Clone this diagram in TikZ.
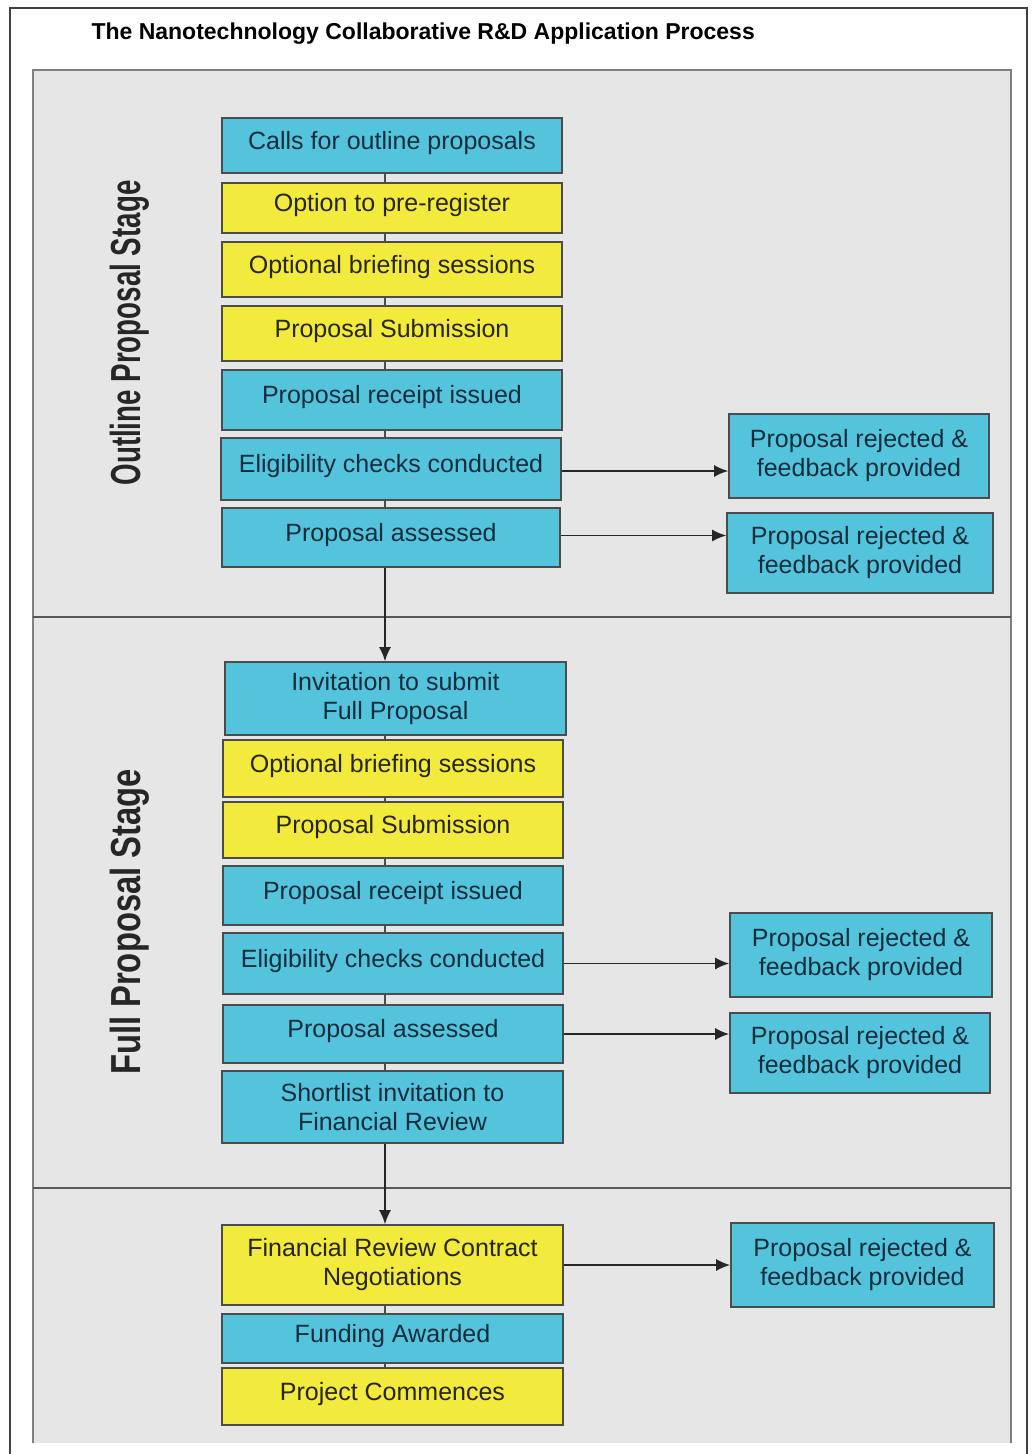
\documentclass[tikz,border=0pt]{standalone}
\usepackage{fontspec}
\usepackage{graphicx}
\setmainfont{Liberation Sans}
\usetikzlibrary{arrows.meta}
\definecolor{boxblue}{RGB}{84,196,220}
\definecolor{boxyellow}{RGB}{242,234,60}
\definecolor{panelgrey}{RGB}{230,230,230}
\definecolor{blutext}{RGB}{18,46,62}
\definecolor{yeltext}{RGB}{40,38,18}
\begin{document}
\begin{tikzpicture}[x=1pt,y=-1pt]
\tikzset{stepnode/.style={draw=black!70, line width=1.6pt, minimum width=340pt, inner sep=0pt, align=center, font=\fontsize{25}{29}\selectfont},
bluetwo/.style={stepnode, fill=boxblue, text=blutext},
yellowtwo/.style={stepnode, fill=boxyellow, text=yeltext},
bluenode/.style={bluetwo, text height=18pt, text depth=11pt},
yellownode/.style={yellowtwo, text height=18pt, text depth=11pt},
rejnode/.style={bluetwo, minimum width=262pt},
flow/.style={line width=1.8pt, draw=black!85, -{Latex[length=14pt,width=12pt]}},
tick/.style={line width=1.6pt, draw=black!70}}
\useasboundingbox (0,0) rectangle (1032,1454);
\fill[white] (0,0) rectangle (1032,1454);
\draw[black!75, line width=1.5pt] (10,1454) -- (10,8) -- (1027,8) -- (1027,1454);
\fill[panelgrey] (33,70) rectangle (1011,1443);
\draw[black!50, line width=2pt] (33,1443) -- (33,70) -- (1011,70) -- (1011,1443);
\draw[black!65, line width=2pt] (33,617) -- (1011,617);
\draw[black!65, line width=2pt] (33,1188) -- (1011,1188);
\node[anchor=base west, font=\fontsize{23}{27}\selectfont\bfseries] (title) at (88,39) {The Nanotechnology Collaborative R\&D Application Process};
\node[rotate=90, text=black!85] (S1) at (130,333) {\scalebox{0.66}[1]{\fontsize{42}{42}\selectfont\bfseries Outline Proposal Stage}};
\node[rotate=90, text=black!85] (S2) at (130,922) {\scalebox{0.78}[1]{\fontsize{42}{42}\selectfont\bfseries Full Proposal Stage}};
\coordinate (sp) at (385,0);
\node[bluenode, minimum height=55pt] (O1) at (392,145.5) {Calls for outline proposals};
\node[yellownode, minimum height=50pt] (O2) at (392,208) {Option to pre-register};
\node[yellownode, minimum height=55pt] (O3) at (392,269.5) {Optional briefing sessions};
\node[yellownode, minimum height=55pt] (O4) at (392,333.5) {Proposal Submission};
\node[bluenode, minimum height=60pt] (O5) at (392,400) {Proposal receipt issued};
\node[bluenode, minimum height=62pt] (O6) at (391,469) {Eligibility checks conducted};
\node[bluenode, minimum height=59pt, minimum width=338pt] (O7) at (391,537.5) {Proposal assessed};
\node[rejnode, minimum height=84pt, minimum width=260pt] (R1) at (859,456) {Proposal rejected \&\\feedback provided};
\node[rejnode, minimum height=80pt, minimum width=266pt] (R2) at (860,553) {Proposal rejected \&\\feedback provided};
\node[bluetwo, minimum height=73pt, minimum width=341pt] (F1) at (395.5,698.5) {Invitation to submit\\Full Proposal};
\node[yellownode, minimum height=57pt] (F2) at (393,768.5) {Optional briefing sessions};
\node[yellownode, minimum height=56pt] (F3) at (393,830) {Proposal Submission};
\node[bluenode, minimum height=59pt] (F4) at (393,895.5) {Proposal receipt issued};
\node[bluenode, minimum height=61pt] (F5) at (393,963.5) {Eligibility checks conducted};
\node[bluenode, minimum height=58pt] (F6) at (393,1034) {Proposal assessed};
\node[bluetwo, minimum height=72pt, minimum width=341pt] (F7) at (392.5,1107) {Shortlist invitation to\\Financial Review};
\node[rejnode, minimum height=84pt] (R3) at (861,955) {Proposal rejected \&\\feedback provided};
\node[rejnode, minimum height=80pt, minimum width=260pt] (R4) at (860,1053) {Proposal rejected \&\\feedback provided};
\node[yellowtwo, minimum height=80pt, minimum width=341pt] (C1) at (392.5,1265) {Financial Review Contract\\Negotiations};
\node[bluenode, minimum height=49pt, minimum width=341pt] (C2) at (392.5,1338.5) {Funding Awarded};
\node[yellownode, minimum height=57pt, minimum width=341pt] (C3) at (392.5,1396.5) {Project Commences};
\node[rejnode, minimum height=84pt, minimum width=263pt] (R5) at (862.5,1265) {Proposal rejected \&\\feedback provided};
\draw[tick] (O1.south -| sp) -- (O2.north -| sp);
\draw[tick] (O2.south -| sp) -- (O3.north -| sp);
\draw[tick] (O3.south -| sp) -- (O4.north -| sp);
\draw[tick] (O4.south -| sp) -- (O5.north -| sp);
\draw[tick] (O5.south -| sp) -- (O6.north -| sp);
\draw[tick] (O6.south -| sp) -- (O7.north -| sp);
\draw[tick] (F1.south -| sp) -- (F2.north -| sp);
\draw[tick] (F2.south -| sp) -- (F3.north -| sp);
\draw[tick] (F3.south -| sp) -- (F4.north -| sp);
\draw[tick] (F4.south -| sp) -- (F5.north -| sp);
\draw[tick] (F5.south -| sp) -- (F6.north -| sp);
\draw[tick] (F6.south -| sp) -- (F7.north -| sp);
\draw[tick] (C1.south -| sp) -- (C2.north -| sp);
\draw[tick] (C2.south -| sp) -- (C3.north -| sp);
\draw[flow] (O7.south -| sp) -- (F1.north -| sp);
\draw[flow] (F7.south -| sp) -- (C1.north -| sp);
\draw[flow] ([yshift=-2pt]O6.east) -- ([yshift=-2pt]O6.east -| R1.west);
\draw[flow] ([yshift=2pt]O7.east) -- ([yshift=2pt]O7.east -| R2.west);
\draw[flow] (F5.east) -- (F5.east -| R3.west);
\draw[flow] (F6.east) -- (F6.east -| R4.west);
\draw[flow] (C1.east) -- (C1.east -| R5.west);
\end{tikzpicture}
\end{document}
